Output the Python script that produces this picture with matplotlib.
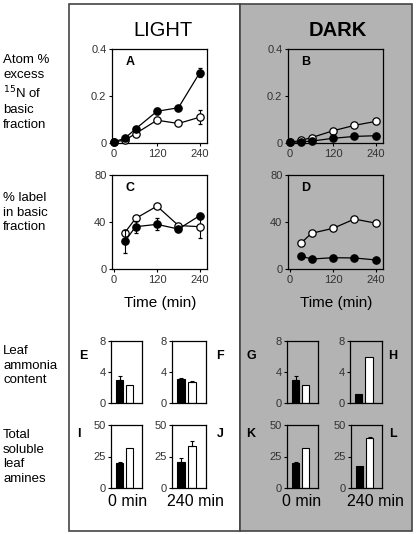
import matplotlib
matplotlib.use("Agg")
import matplotlib.pyplot as plt
from matplotlib.patches import Rectangle

plt.rcParams['font.family'] = ['Liberation Sans', 'DejaVu Sans']

W, H = 416, 534
GRAY = "#b3b3b3"

# ---- data ----
t_a = [0, 30, 60, 120, 180, 240]
a_filled = [0.005, 0.02, 0.06, 0.135, 0.15, 0.30]
a_filled_err = [0, 0, 0.005, 0.012, 0.005, 0.02]
a_open = [0.005, 0.012, 0.04, 0.097, 0.083, 0.11]
a_open_err = [0, 0, 0, 0, 0, 0.03]

b_filled = [0.003, 0.005, 0.008, 0.02, 0.028, 0.031]
b_open = [0.003, 0.011, 0.023, 0.052, 0.075, 0.092]

t_c = [30, 60, 120, 180, 240]
c_filled = [23.5, 36, 38, 34, 45.5]
c_filled_err = [10, 5, 5, 0, 0]
c_open = [31, 43, 53.5, 37, 36]
c_open_err = [0, 0, 0, 0, 10]

d_filled = [11, 8.5, 9.6, 9.4, 7.7]
d_open = [22, 30.4, 34.6, 42.5, 39]

# bar panels: (black, black_err, white, white_err)
bar_vals = {
    "E": (3.0, 0.5, 2.3, 0.0),
    "F": (3.1, 0.15, 2.7, 0.12),
    "G": (3.0, 0.5, 2.3, 0.0),
    "H": (1.2, 0.0, 5.9, 0.0),
    "I": (19.5, 1.5, 31.5, 0.0),
    "J": (21.0, 3.0, 33.0, 4.0),
    "K": (19.5, 1.5, 31.5, 0.0),
    "L": (17.5, 0.0, 39.5, 1.0),
}

fig = plt.figure(figsize=(W / 100, H / 100), dpi=100)


def px(x0, y0, x1, y1):
    return [x0 / W, 1 - y1 / H, (x1 - x0) / W, (y1 - y0) / H]


# panel backgrounds (behind the axes)
fig.patches.append(Rectangle((69 / W, 1 - 531 / H), (240 - 69) / W, 527 / H,
                             transform=fig.transFigure, facecolor="white",
                             edgecolor="#444444", lw=1.2, zorder=-5))
fig.patches.append(Rectangle((240 / W, 1 - 531 / H), (412 - 240) / W, 527 / H,
                             transform=fig.transFigure, facecolor=GRAY,
                             edgecolor="#444444", lw=1.2, zorder=-5))


def style(ax, bg):
    ax.set_facecolor(bg)
    for s in ax.spines.values():
        s.set_linewidth(0.9)
    ax.tick_params(labelsize=8, length=2.5, width=0.8, direction="out",
                   labelcolor="#333333", pad=1.5)


def line_panel(box, bg, filled, fill_err, opn, open_err, t, ylim, yticks, letter):
    ax = fig.add_axes(px(*box))
    style(ax, bg)
    ax.errorbar(t, opn, yerr=open_err, color="black", lw=0.9, marker="o",
                mfc="white", mec="black", ms=5.3, mew=0.9, capsize=1.5, elinewidth=0.8,
                zorder=3, clip_on=False)
    ax.errorbar(t, filled, yerr=fill_err, color="black", lw=0.9, marker="o",
                mfc="black", mec="black", ms=5.3, mew=0.9, capsize=1.5, elinewidth=0.8,
                zorder=4, clip_on=False)
    ax.set_xlim(-6, 260)
    ax.set_ylim(*ylim)
    ax.set_xticks([0, 120, 240])
    ax.set_yticks(yticks)
    ax.set_yticklabels([("%g" % v) for v in yticks])
    ax.text(0.14, 0.86, letter, transform=ax.transAxes, fontsize=9, fontweight="bold",
            va="center")
    return ax


line_panel((112, 49, 207, 143), "white", a_filled, a_filled_err, a_open, a_open_err,
           t_a, (0, 0.4), [0, 0.2, 0.4], "A")
line_panel((288, 49, 383, 143), GRAY, b_filled, None, b_open, None,
           t_a, (0, 0.4), [0, 0.2, 0.4], "B")
line_panel((112, 175, 207, 269), "white", c_filled, c_filled_err, c_open, c_open_err,
           t_c, (0, 80), [0, 40, 80], "C")
line_panel((288, 175, 383, 269), GRAY, d_filled, None, d_open, None,
           t_c, (0, 80), [0, 40, 80], "D")


def bar_panel(box, bg, key, ylim, yticks):
    blk, blk_e, wht, wht_e = bar_vals[key]
    ax = fig.add_axes(px(*box))
    style(ax, bg)
    ax.bar([0], [blk], width=0.7, color="black", edgecolor="black", lw=0.8,
           yerr=[[0], [blk_e]] if blk_e else None, capsize=1.5,
           error_kw=dict(elinewidth=0.8, capthick=0.8))
    ax.bar([1], [wht], width=0.7, color="white", edgecolor="black", lw=0.8,
           yerr=[[0], [wht_e]] if wht_e else None, capsize=1.5,
           error_kw=dict(elinewidth=0.8, capthick=0.8))
    ax.set_xlim(-0.85, 2.25)
    ax.set_ylim(*ylim)
    ax.set_xticks([])
    ax.set_yticks(yticks)
    return ax


bar_panel((111, 341, 142, 403), "white", "E", (0, 8), [0, 4, 8])
bar_panel((172, 341, 206, 403), "white", "F", (0, 8), [0, 4, 8])
bar_panel((287, 341, 318, 403), GRAY, "G", (0, 8), [0, 4, 8])
bar_panel((350, 341, 382, 403), GRAY, "H", (0, 8), [0, 4, 8])
bar_panel((111, 425, 142, 488), "white", "I", (0, 50), [0, 25, 50])
bar_panel((172, 425, 206, 488), "white", "J", (0, 50), [0, 25, 50])
bar_panel((287, 425, 318, 488), GRAY, "K", (0, 50), [0, 25, 50])
bar_panel((351, 425, 382, 488), GRAY, "L", (0, 50), [0, 25, 50])


def ftext(x, y, s, **kw):
    fig.text(x / W, 1 - y / H, s, **kw)


# titles
ftext(163, 30, "LIGHT", fontsize=14.5, ha="center", va="center")
ftext(338, 30, "DARK", fontsize=14.5, fontweight="bold", ha="center", va="center")
ftext(160, 303, "Time (min)", fontsize=11, ha="center", va="center")
ftext(336, 303, "Time (min)", fontsize=11, ha="center", va="center")

# bar panel letters
for letter, x, y in [("E", 83, 356), ("F", 220, 356), ("G", 251, 356), ("H", 393, 356),
                     ("I", 79, 434), ("J", 220, 434), ("K", 251, 434), ("L", 393, 434)]:
    ftext(x, y, letter, fontsize=9, fontweight="bold", ha="center", va="center")

for x, s in [(128, "0 min"), (195, "240 min"), (302, "0 min"), (375, "240 min")]:
    ftext(x, 502, s, fontsize=11.5, ha="center", va="center")

# row labels
lab_kw = dict(fontsize=9.5, ha="left", va="top", linespacing=1.3)
ftext(3, 54, "Atom %\nexcess\n$^{15}$N of\nbasic\nfraction", **lab_kw)
ftext(3, 192, "% label\nin basic\nfraction", **lab_kw)
ftext(3, 345, "Leaf\nammonia\ncontent", **lab_kw)
ftext(3, 429, "Total\nsoluble\nleaf\namines", **lab_kw)

fig.savefig("out.png", dpi=100)
